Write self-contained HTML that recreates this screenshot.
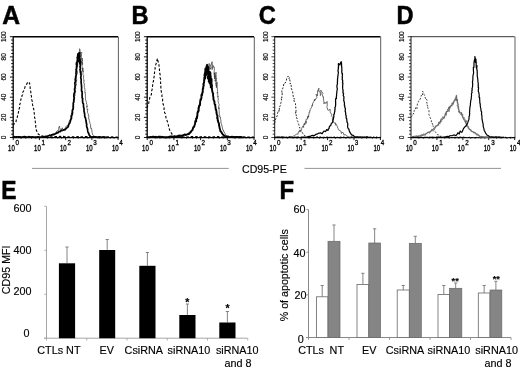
<!DOCTYPE html>
<html lang="en"><head><meta charset="utf-8"><title>Figure</title>
<style>html,body{margin:0;padding:0;background:#fff}svg{display:block}</style></head>
<body>
<svg width="520" height="369" viewBox="0 0 520 369" font-family='"Liberation Sans", Arial, Helvetica, sans-serif'>
<rect x="0" y="0" width="520" height="369" fill="#fff"/>
<line x1="13.20" y1="36.70" x2="118.10" y2="36.70" stroke="#000" stroke-width="1.4"/>
<line x1="118.40" y1="36.70" x2="118.40" y2="137.50" stroke="#333" stroke-width="0.8"/>
<line x1="13.20" y1="36.20" x2="13.20" y2="138.00" stroke="#000" stroke-width="1.3"/>
<line x1="12.70" y1="137.60" x2="118.70" y2="137.60" stroke="#000" stroke-width="1.15"/>
<line x1="9.90" y1="137.50" x2="13.20" y2="137.50" stroke="#000" stroke-width="0.9"/>
<line x1="11.20" y1="134.14" x2="13.20" y2="134.14" stroke="#000" stroke-width="0.9"/>
<line x1="11.20" y1="130.78" x2="13.20" y2="130.78" stroke="#000" stroke-width="0.9"/>
<line x1="11.20" y1="127.42" x2="13.20" y2="127.42" stroke="#000" stroke-width="0.9"/>
<line x1="11.20" y1="124.06" x2="13.20" y2="124.06" stroke="#000" stroke-width="0.9"/>
<line x1="11.20" y1="120.70" x2="13.20" y2="120.70" stroke="#000" stroke-width="0.9"/>
<line x1="9.90" y1="117.34" x2="13.20" y2="117.34" stroke="#000" stroke-width="0.9"/>
<line x1="11.20" y1="113.98" x2="13.20" y2="113.98" stroke="#000" stroke-width="0.9"/>
<line x1="11.20" y1="110.62" x2="13.20" y2="110.62" stroke="#000" stroke-width="0.9"/>
<line x1="11.20" y1="107.26" x2="13.20" y2="107.26" stroke="#000" stroke-width="0.9"/>
<line x1="11.20" y1="103.90" x2="13.20" y2="103.90" stroke="#000" stroke-width="0.9"/>
<line x1="11.20" y1="100.54" x2="13.20" y2="100.54" stroke="#000" stroke-width="0.9"/>
<line x1="9.90" y1="97.18" x2="13.20" y2="97.18" stroke="#000" stroke-width="0.9"/>
<line x1="11.20" y1="93.82" x2="13.20" y2="93.82" stroke="#000" stroke-width="0.9"/>
<line x1="11.20" y1="90.46" x2="13.20" y2="90.46" stroke="#000" stroke-width="0.9"/>
<line x1="11.20" y1="87.10" x2="13.20" y2="87.10" stroke="#000" stroke-width="0.9"/>
<line x1="11.20" y1="83.74" x2="13.20" y2="83.74" stroke="#000" stroke-width="0.9"/>
<line x1="11.20" y1="80.38" x2="13.20" y2="80.38" stroke="#000" stroke-width="0.9"/>
<line x1="9.90" y1="77.02" x2="13.20" y2="77.02" stroke="#000" stroke-width="0.9"/>
<line x1="11.20" y1="73.66" x2="13.20" y2="73.66" stroke="#000" stroke-width="0.9"/>
<line x1="11.20" y1="70.30" x2="13.20" y2="70.30" stroke="#000" stroke-width="0.9"/>
<line x1="11.20" y1="66.94" x2="13.20" y2="66.94" stroke="#000" stroke-width="0.9"/>
<line x1="11.20" y1="63.58" x2="13.20" y2="63.58" stroke="#000" stroke-width="0.9"/>
<line x1="11.20" y1="60.22" x2="13.20" y2="60.22" stroke="#000" stroke-width="0.9"/>
<line x1="9.90" y1="56.86" x2="13.20" y2="56.86" stroke="#000" stroke-width="0.9"/>
<line x1="11.20" y1="53.50" x2="13.20" y2="53.50" stroke="#000" stroke-width="0.9"/>
<line x1="11.20" y1="50.14" x2="13.20" y2="50.14" stroke="#000" stroke-width="0.9"/>
<line x1="11.20" y1="46.78" x2="13.20" y2="46.78" stroke="#000" stroke-width="0.9"/>
<line x1="11.20" y1="43.42" x2="13.20" y2="43.42" stroke="#000" stroke-width="0.9"/>
<line x1="11.20" y1="40.06" x2="13.20" y2="40.06" stroke="#000" stroke-width="0.9"/>
<line x1="9.90" y1="36.70" x2="13.20" y2="36.70" stroke="#000" stroke-width="0.9"/>
<text transform="translate(6.10,137.50) rotate(-90)" font-size="6.4" text-anchor="middle" fill="#111" stroke="#111" stroke-width="0.2">0</text>
<text transform="translate(6.10,117.34) rotate(-90)" font-size="6.4" text-anchor="middle" fill="#111" stroke="#111" stroke-width="0.2">20</text>
<text transform="translate(6.10,97.18) rotate(-90)" font-size="6.4" text-anchor="middle" fill="#111" stroke="#111" stroke-width="0.2">40</text>
<text transform="translate(6.10,77.02) rotate(-90)" font-size="6.4" text-anchor="middle" fill="#111" stroke="#111" stroke-width="0.2">60</text>
<text transform="translate(6.10,56.86) rotate(-90)" font-size="6.4" text-anchor="middle" fill="#111" stroke="#111" stroke-width="0.2">80</text>
<text transform="translate(6.10,36.70) rotate(-90)" font-size="6.4" text-anchor="middle" fill="#111" stroke="#111" stroke-width="0.2">100</text>
<line x1="13.20" y1="137.50" x2="13.20" y2="140.10" stroke="#000" stroke-width="0.9"/>
<line x1="21.09" y1="137.50" x2="21.09" y2="138.90" stroke="#000" stroke-width="0.6"/>
<line x1="25.71" y1="137.50" x2="25.71" y2="138.90" stroke="#000" stroke-width="0.6"/>
<line x1="31.53" y1="137.50" x2="31.53" y2="138.90" stroke="#000" stroke-width="0.6"/>
<line x1="35.36" y1="137.50" x2="35.36" y2="138.90" stroke="#000" stroke-width="0.6"/>
<text transform="translate(14.80,150.6) scale(0.72,1)" font-size="8.4" text-anchor="end" fill="#000" stroke="#000" stroke-width="0.35">10</text>
<text transform="translate(15.50,145.4) scale(0.85,1)" font-size="7.4" fill="#000" stroke="#000" stroke-width="0.3">0</text>
<line x1="39.42" y1="137.50" x2="39.42" y2="140.10" stroke="#000" stroke-width="0.9"/>
<line x1="47.32" y1="137.50" x2="47.32" y2="138.90" stroke="#000" stroke-width="0.6"/>
<line x1="51.94" y1="137.50" x2="51.94" y2="138.90" stroke="#000" stroke-width="0.6"/>
<line x1="57.76" y1="137.50" x2="57.76" y2="138.90" stroke="#000" stroke-width="0.6"/>
<line x1="61.59" y1="137.50" x2="61.59" y2="138.90" stroke="#000" stroke-width="0.6"/>
<text transform="translate(40.75,150.6) scale(0.72,1)" font-size="8.4" text-anchor="end" fill="#000" stroke="#000" stroke-width="0.35">10</text>
<text transform="translate(41.45,145.4) scale(0.85,1)" font-size="7.4" fill="#000" stroke="#000" stroke-width="0.3">1</text>
<line x1="65.65" y1="137.50" x2="65.65" y2="140.10" stroke="#000" stroke-width="0.9"/>
<line x1="73.54" y1="137.50" x2="73.54" y2="138.90" stroke="#000" stroke-width="0.6"/>
<line x1="78.16" y1="137.50" x2="78.16" y2="138.90" stroke="#000" stroke-width="0.6"/>
<line x1="83.98" y1="137.50" x2="83.98" y2="138.90" stroke="#000" stroke-width="0.6"/>
<line x1="87.81" y1="137.50" x2="87.81" y2="138.90" stroke="#000" stroke-width="0.6"/>
<text transform="translate(66.70,150.6) scale(0.72,1)" font-size="8.4" text-anchor="end" fill="#000" stroke="#000" stroke-width="0.35">10</text>
<text transform="translate(67.40,145.4) scale(0.85,1)" font-size="7.4" fill="#000" stroke="#000" stroke-width="0.3">2</text>
<line x1="91.88" y1="137.50" x2="91.88" y2="140.10" stroke="#000" stroke-width="0.9"/>
<line x1="99.77" y1="137.50" x2="99.77" y2="138.90" stroke="#000" stroke-width="0.6"/>
<line x1="104.39" y1="137.50" x2="104.39" y2="138.90" stroke="#000" stroke-width="0.6"/>
<line x1="110.21" y1="137.50" x2="110.21" y2="138.90" stroke="#000" stroke-width="0.6"/>
<line x1="114.04" y1="137.50" x2="114.04" y2="138.90" stroke="#000" stroke-width="0.6"/>
<text transform="translate(92.65,150.6) scale(0.72,1)" font-size="8.4" text-anchor="end" fill="#000" stroke="#000" stroke-width="0.35">10</text>
<text transform="translate(93.35,145.4) scale(0.85,1)" font-size="7.4" fill="#000" stroke="#000" stroke-width="0.3">3</text>
<line x1="118.10" y1="137.50" x2="118.10" y2="140.10" stroke="#000" stroke-width="0.9"/>
<text transform="translate(118.60,150.6) scale(0.72,1)" font-size="8.4" text-anchor="end" fill="#000" stroke="#000" stroke-width="0.35">10</text>
<text transform="translate(119.30,145.4) scale(0.85,1)" font-size="7.4" fill="#000" stroke="#000" stroke-width="0.3">4</text>
<text transform="translate(2.35,23.85) scale(0.950,1)" font-size="26" font-weight="bold" fill="#000" stroke="#000" stroke-width="0.5">A</text>
<polyline points="13.05,125.41 14.52,123.44 15.60,122.43 16.15,121.28 16.35,118.59 17.19,117.53 17.63,115.30 17.89,114.64 18.20,113.29 18.95,110.34 18.81,109.56 19.55,107.83 19.49,106.39 19.69,104.61 20.18,103.49 20.37,101.62 20.71,100.44 21.10,98.33 21.72,97.58 21.97,95.56 22.67,94.75 22.76,92.27 23.58,91.05 24.21,88.89 24.83,87.74 25.24,86.12 26.19,84.98 27.50,82.62 28.37,83.64 29.65,82.88 29.59,84.82 30.10,86.74 30.19,88.16 30.50,90.39 30.70,91.35 30.87,92.34 30.84,94.78 31.49,96.13 31.45,97.14 31.75,99.87 32.13,100.86 32.43,102.03 32.51,104.63 32.85,105.69 33.01,107.57 33.66,108.56 33.89,111.45 34.19,112.89 34.40,114.13 34.53,115.55 34.53,117.72 35.03,118.33 35.18,120.34 35.29,121.75 35.55,123.73 35.76,125.13 35.71,126.49 35.96,128.48 36.36,130.27 37.21,132.01 37.94,133.74 40.04,135.35 41.90,135.82 44.05,136.46 45.43,136.72 46.97,136.47 48.44,136.76 49.94,136.68 51.71,136.73 53.30,136.69 54.91,136.59 56.65,136.43 58.26,136.77 60.00,136.34 61.69,136.74 63.24,136.37 64.93,136.82 66.60,136.88 68.37,136.86 69.95,137.15 71.72,136.86 73.28,136.88 74.98,136.79 76.63,136.77 78.25,136.54 80.09,136.80 81.46,136.82 82.96,136.90 84.55,136.65 85.95,136.46 87.57,136.50 89.06,137.03 90.51,136.64 92.07,137.09 93.54,136.87 94.98,136.82 96.49,137.00 98.07,136.75 99.55,137.01 101.12,136.93 102.67,137.13 104.31,136.69 105.73,136.86 107.41,137.10 108.83,136.81 110.43,137.14 112.02,136.89 113.55,137.08 115.02,137.24 116.51,137.11 118.10,137.00" fill="none" stroke="#000" stroke-width="1.1" stroke-linejoin="round" stroke-linecap="butt" stroke-dasharray="2.6 1.8"/>
<polyline points="13.11,137.04 14.26,137.10 15.46,136.58 16.36,137.32 17.55,136.74 18.91,136.97 19.96,136.98 21.00,136.66 22.11,137.35 23.18,137.23 24.33,136.58 25.47,137.09 26.43,136.55 27.72,136.97 28.78,137.36 29.89,137.41 30.89,137.29 32.01,137.42 33.27,136.61 34.12,136.73 35.51,136.94 36.50,136.81 37.57,136.89 38.63,137.08 39.81,137.39 40.95,137.41 42.12,137.47 43.26,136.43 44.53,136.99 45.75,136.35 46.88,135.73 48.13,135.88 49.16,134.86 50.65,135.48 51.57,134.82 52.96,133.56 54.40,133.86 56.18,132.37 56.73,131.33 57.45,130.73 58.23,130.81 58.50,129.89 58.87,127.20 59.57,126.06 59.63,127.99 60.23,128.73 60.24,131.10 61.13,130.06 62.26,127.77 62.73,129.04 63.59,130.16 64.20,129.22 65.13,128.01 65.45,127.44 66.56,125.84 68.36,125.55 68.46,123.31 68.76,123.52 68.83,122.54 69.79,120.02 70.20,120.00 70.66,118.62 70.94,118.52 70.57,115.66 71.41,116.90 71.27,114.49 71.83,113.03 71.88,111.91 72.13,111.55 72.32,109.88 73.00,107.87 73.06,108.61 72.98,106.15 73.59,105.07 73.18,104.46 73.81,102.46 73.62,101.94 74.24,101.09 74.42,99.27 74.10,99.39 74.76,97.75 74.31,95.76 74.75,94.82 75.15,95.38 74.74,92.80 75.47,92.62 75.62,90.72 75.16,89.46 75.86,88.26 75.55,87.50 75.71,86.34 76.26,84.53 75.53,85.44 76.42,84.41 76.11,83.17 76.65,80.13 76.58,80.59 76.60,78.62 76.36,77.02 76.39,75.16 76.82,74.59 77.12,72.82 77.30,73.36 77.41,72.75 77.48,70.77 76.77,70.07 77.01,67.77 77.55,67.21 77.42,67.14 77.72,64.48 77.52,64.72 77.85,63.40 77.85,60.77 78.14,61.27 77.93,60.09 78.74,59.02 78.77,55.83 78.72,56.94 78.42,54.07 78.86,53.40 79.23,51.93 79.90,49.55 79.59,48.73 79.73,49.76 80.57,52.99 79.84,53.26 80.12,53.96 80.22,56.01 80.51,56.45 80.22,57.55 80.26,56.89 80.90,55.19 80.42,53.41 80.78,53.27 81.66,52.19 81.71,53.97 81.42,54.47 81.52,56.48 81.49,57.60 81.56,57.59 81.67,59.91 81.29,60.35 81.65,62.69 82.16,62.52 82.16,64.76 81.66,62.71 81.62,62.41 82.19,61.41 82.39,59.64 82.41,58.17 81.87,59.39 81.82,59.41 82.55,60.32 81.96,61.62 82.71,63.00 81.97,65.89 82.09,67.06 82.62,68.21 82.91,68.71 82.81,68.46 82.81,70.86 82.80,70.98 82.96,71.80 82.47,68.88 83.06,68.85 82.81,68.28 82.86,70.52 83.36,71.06 83.06,72.18 83.09,73.34 82.89,74.67 83.74,75.55 83.58,76.01 83.57,78.67 83.72,79.19 83.70,80.66 84.23,80.52 83.66,83.22 84.56,83.76 84.29,85.43 84.21,85.40 84.35,87.39 84.58,87.64 85.05,90.68 84.81,91.20 85.05,92.75 85.33,92.39 85.12,92.93 85.48,95.03 85.33,96.14 85.59,98.38 85.55,100.11 85.98,100.26 86.14,101.98 86.63,102.37 86.48,103.91 86.99,104.19 87.05,106.75 86.97,105.96 86.93,108.34 87.49,110.08 87.82,109.33 87.42,110.48 87.62,112.75 88.43,114.37 88.08,115.39 88.33,115.36 88.91,115.59 88.53,118.65 88.91,118.52 89.37,120.46 89.10,120.68 89.73,122.19 89.79,123.54 90.64,124.20 90.56,124.74 90.61,127.00 90.75,128.52 91.51,128.16 91.76,129.79 91.97,131.53 92.05,132.51 92.55,133.78 92.70,134.81 93.68,135.74 94.21,136.21 95.40,136.55 96.68,136.98 97.82,136.59 99.05,137.13 100.05,137.43 101.37,136.76 102.61,136.83 103.57,137.44 104.82,137.34 105.99,137.30 107.10,137.40" fill="none" stroke="#333" stroke-width="0.7" stroke-linejoin="round" stroke-linecap="round"/>
<polyline points="13.31,137.30 14.21,136.72 15.51,137.16 16.59,136.87 17.69,137.07 18.80,136.77 19.88,136.93 21.07,137.33 22.24,137.03 23.24,136.85 24.26,136.69 25.48,136.88 26.57,137.26 27.72,137.04 28.77,136.68 29.91,136.76 31.07,137.33 32.22,136.79 33.39,137.20 34.47,137.27 35.59,137.19 36.62,137.32 37.87,136.77 38.94,137.14 39.99,137.02 41.25,137.15 42.50,136.96 43.71,136.87 45.10,136.44 46.27,136.63 47.56,136.19 48.55,135.77 49.80,135.34 50.99,135.12 52.12,134.85 53.64,134.67 55.00,134.02 56.05,133.55 56.94,132.65 58.00,132.83 59.04,131.50 60.12,131.71 61.16,130.66 63.10,130.10 64.06,129.79 64.88,129.95 66.07,128.53 67.67,127.16 67.86,127.04 68.46,125.82 68.74,124.28 69.31,123.78 69.78,123.12 70.27,121.58 70.80,119.56 71.53,118.13 71.37,117.84 71.73,115.43 72.34,114.37 71.97,113.47 72.57,112.94 72.37,111.07 72.44,110.13 73.02,109.52 73.23,108.41 73.32,107.19 73.19,105.19 73.43,104.21 73.19,103.32 73.80,101.60 73.74,100.94 73.81,99.36 74.19,98.40 74.07,97.52 73.80,96.60 73.97,94.54 74.01,93.56 74.15,93.24 74.51,92.70 74.87,91.56 74.53,89.40 74.64,88.50 74.98,87.71 75.13,85.56 75.04,84.90 74.87,82.88 75.22,81.87 75.51,80.96 75.21,79.71 75.39,78.63 75.66,77.94 75.62,77.11 75.65,76.45 76.22,74.98 75.98,73.45 76.17,71.48 76.16,71.19 76.10,69.27 76.56,68.62 76.45,68.47 76.58,66.19 76.89,65.20 76.35,64.62 76.48,62.79 77.01,62.31 76.59,63.25 76.94,64.64 76.92,66.16 76.88,64.50 77.11,64.56 76.97,63.13 77.08,61.68 77.25,60.38 77.53,59.14 77.17,57.54 77.19,57.74 77.59,56.83 77.92,53.89 78.20,54.00 78.30,54.71 78.12,55.85 78.46,56.73 78.35,58.32 78.67,60.12 78.72,61.39 78.37,61.52 78.56,60.40 78.59,59.99 78.96,58.65 78.97,56.61 78.74,57.06 78.68,54.85 78.88,53.01 79.65,53.38 79.52,52.98 79.33,54.32 79.60,56.28 79.48,57.14 79.31,58.32 79.86,59.86 79.36,60.58 79.78,61.26 79.92,62.78 79.83,63.83 80.07,63.31 79.87,60.96 79.84,59.55 80.00,59.89 79.80,58.02 80.01,59.00 80.18,61.12 80.20,61.45 80.39,62.36 80.28,64.12 80.31,65.63 80.00,66.38 80.14,67.63 80.53,68.74 79.94,69.60 80.41,71.52 80.39,72.57 80.30,70.80 80.81,71.33 80.98,72.98 80.54,74.00 81.03,74.03 81.08,75.87 80.79,77.40 80.82,78.20 81.07,78.70 81.22,80.23 81.06,82.27 81.04,81.68 81.36,84.32 81.54,85.32 81.49,86.31 81.48,86.75 81.67,87.48 81.49,89.96 81.63,91.12 82.10,91.66 82.11,93.52 82.31,93.51 81.95,95.12 82.23,96.13 82.02,97.77 82.71,98.59 82.52,99.79 82.62,101.76 82.69,102.45 82.95,103.34 83.38,103.60 83.48,105.10 83.52,107.08 83.68,107.44 83.95,107.99 83.97,109.62 84.06,111.54 84.39,112.23 84.31,112.66 84.63,113.80 84.75,116.25 84.87,117.14 85.27,117.47 85.46,118.10 85.77,119.40 85.95,120.74 86.42,122.95 86.33,123.56 86.79,124.17 86.54,125.16 86.78,126.92 87.06,127.59 87.44,128.56 87.63,130.16 87.84,131.48 88.19,132.63 88.76,133.38 89.06,134.88 89.87,135.74 90.69,136.90 91.76,137.03 92.75,136.88 93.94,136.81 94.98,136.78 96.21,136.94 97.19,137.33 98.23,137.41 99.31,136.84 100.47,137.09 101.70,137.47 102.76,137.21 103.81,137.12 104.97,137.26 105.95,137.45 107.10,137.40" fill="none" stroke="#000" stroke-width="1.7" stroke-linejoin="round" stroke-linecap="round"/>
<line x1="147.20" y1="36.70" x2="254.00" y2="36.70" stroke="#000" stroke-width="1.4"/>
<line x1="254.30" y1="36.70" x2="254.30" y2="137.50" stroke="#333" stroke-width="0.8"/>
<line x1="147.20" y1="36.20" x2="147.20" y2="138.00" stroke="#000" stroke-width="1.3"/>
<line x1="146.70" y1="137.60" x2="254.60" y2="137.60" stroke="#000" stroke-width="1.15"/>
<line x1="143.90" y1="137.50" x2="147.20" y2="137.50" stroke="#000" stroke-width="0.9"/>
<line x1="145.20" y1="134.14" x2="147.20" y2="134.14" stroke="#000" stroke-width="0.9"/>
<line x1="145.20" y1="130.78" x2="147.20" y2="130.78" stroke="#000" stroke-width="0.9"/>
<line x1="145.20" y1="127.42" x2="147.20" y2="127.42" stroke="#000" stroke-width="0.9"/>
<line x1="145.20" y1="124.06" x2="147.20" y2="124.06" stroke="#000" stroke-width="0.9"/>
<line x1="145.20" y1="120.70" x2="147.20" y2="120.70" stroke="#000" stroke-width="0.9"/>
<line x1="143.90" y1="117.34" x2="147.20" y2="117.34" stroke="#000" stroke-width="0.9"/>
<line x1="145.20" y1="113.98" x2="147.20" y2="113.98" stroke="#000" stroke-width="0.9"/>
<line x1="145.20" y1="110.62" x2="147.20" y2="110.62" stroke="#000" stroke-width="0.9"/>
<line x1="145.20" y1="107.26" x2="147.20" y2="107.26" stroke="#000" stroke-width="0.9"/>
<line x1="145.20" y1="103.90" x2="147.20" y2="103.90" stroke="#000" stroke-width="0.9"/>
<line x1="145.20" y1="100.54" x2="147.20" y2="100.54" stroke="#000" stroke-width="0.9"/>
<line x1="143.90" y1="97.18" x2="147.20" y2="97.18" stroke="#000" stroke-width="0.9"/>
<line x1="145.20" y1="93.82" x2="147.20" y2="93.82" stroke="#000" stroke-width="0.9"/>
<line x1="145.20" y1="90.46" x2="147.20" y2="90.46" stroke="#000" stroke-width="0.9"/>
<line x1="145.20" y1="87.10" x2="147.20" y2="87.10" stroke="#000" stroke-width="0.9"/>
<line x1="145.20" y1="83.74" x2="147.20" y2="83.74" stroke="#000" stroke-width="0.9"/>
<line x1="145.20" y1="80.38" x2="147.20" y2="80.38" stroke="#000" stroke-width="0.9"/>
<line x1="143.90" y1="77.02" x2="147.20" y2="77.02" stroke="#000" stroke-width="0.9"/>
<line x1="145.20" y1="73.66" x2="147.20" y2="73.66" stroke="#000" stroke-width="0.9"/>
<line x1="145.20" y1="70.30" x2="147.20" y2="70.30" stroke="#000" stroke-width="0.9"/>
<line x1="145.20" y1="66.94" x2="147.20" y2="66.94" stroke="#000" stroke-width="0.9"/>
<line x1="145.20" y1="63.58" x2="147.20" y2="63.58" stroke="#000" stroke-width="0.9"/>
<line x1="145.20" y1="60.22" x2="147.20" y2="60.22" stroke="#000" stroke-width="0.9"/>
<line x1="143.90" y1="56.86" x2="147.20" y2="56.86" stroke="#000" stroke-width="0.9"/>
<line x1="145.20" y1="53.50" x2="147.20" y2="53.50" stroke="#000" stroke-width="0.9"/>
<line x1="145.20" y1="50.14" x2="147.20" y2="50.14" stroke="#000" stroke-width="0.9"/>
<line x1="145.20" y1="46.78" x2="147.20" y2="46.78" stroke="#000" stroke-width="0.9"/>
<line x1="145.20" y1="43.42" x2="147.20" y2="43.42" stroke="#000" stroke-width="0.9"/>
<line x1="145.20" y1="40.06" x2="147.20" y2="40.06" stroke="#000" stroke-width="0.9"/>
<line x1="143.90" y1="36.70" x2="147.20" y2="36.70" stroke="#000" stroke-width="0.9"/>
<text transform="translate(140.10,137.50) rotate(-90)" font-size="6.4" text-anchor="middle" fill="#111" stroke="#111" stroke-width="0.2">0</text>
<text transform="translate(140.10,117.34) rotate(-90)" font-size="6.4" text-anchor="middle" fill="#111" stroke="#111" stroke-width="0.2">20</text>
<text transform="translate(140.10,97.18) rotate(-90)" font-size="6.4" text-anchor="middle" fill="#111" stroke="#111" stroke-width="0.2">40</text>
<text transform="translate(140.10,77.02) rotate(-90)" font-size="6.4" text-anchor="middle" fill="#111" stroke="#111" stroke-width="0.2">60</text>
<text transform="translate(140.10,56.86) rotate(-90)" font-size="6.4" text-anchor="middle" fill="#111" stroke="#111" stroke-width="0.2">80</text>
<text transform="translate(140.10,36.70) rotate(-90)" font-size="6.4" text-anchor="middle" fill="#111" stroke="#111" stroke-width="0.2">100</text>
<line x1="147.20" y1="137.50" x2="147.20" y2="140.10" stroke="#000" stroke-width="0.9"/>
<line x1="155.24" y1="137.50" x2="155.24" y2="138.90" stroke="#000" stroke-width="0.6"/>
<line x1="159.94" y1="137.50" x2="159.94" y2="138.90" stroke="#000" stroke-width="0.6"/>
<line x1="165.86" y1="137.50" x2="165.86" y2="138.90" stroke="#000" stroke-width="0.6"/>
<line x1="169.76" y1="137.50" x2="169.76" y2="138.90" stroke="#000" stroke-width="0.6"/>
<text transform="translate(148.80,150.6) scale(0.72,1)" font-size="8.4" text-anchor="end" fill="#000" stroke="#000" stroke-width="0.35">10</text>
<text transform="translate(149.50,145.4) scale(0.85,1)" font-size="7.4" fill="#000" stroke="#000" stroke-width="0.3">0</text>
<line x1="173.90" y1="137.50" x2="173.90" y2="140.10" stroke="#000" stroke-width="0.9"/>
<line x1="181.94" y1="137.50" x2="181.94" y2="138.90" stroke="#000" stroke-width="0.6"/>
<line x1="186.64" y1="137.50" x2="186.64" y2="138.90" stroke="#000" stroke-width="0.6"/>
<line x1="192.56" y1="137.50" x2="192.56" y2="138.90" stroke="#000" stroke-width="0.6"/>
<line x1="196.46" y1="137.50" x2="196.46" y2="138.90" stroke="#000" stroke-width="0.6"/>
<text transform="translate(174.75,150.6) scale(0.72,1)" font-size="8.4" text-anchor="end" fill="#000" stroke="#000" stroke-width="0.35">10</text>
<text transform="translate(175.45,145.4) scale(0.85,1)" font-size="7.4" fill="#000" stroke="#000" stroke-width="0.3">1</text>
<line x1="200.60" y1="137.50" x2="200.60" y2="140.10" stroke="#000" stroke-width="0.9"/>
<line x1="208.64" y1="137.50" x2="208.64" y2="138.90" stroke="#000" stroke-width="0.6"/>
<line x1="213.34" y1="137.50" x2="213.34" y2="138.90" stroke="#000" stroke-width="0.6"/>
<line x1="219.26" y1="137.50" x2="219.26" y2="138.90" stroke="#000" stroke-width="0.6"/>
<line x1="223.16" y1="137.50" x2="223.16" y2="138.90" stroke="#000" stroke-width="0.6"/>
<text transform="translate(200.70,150.6) scale(0.72,1)" font-size="8.4" text-anchor="end" fill="#000" stroke="#000" stroke-width="0.35">10</text>
<text transform="translate(201.40,145.4) scale(0.85,1)" font-size="7.4" fill="#000" stroke="#000" stroke-width="0.3">2</text>
<line x1="227.30" y1="137.50" x2="227.30" y2="140.10" stroke="#000" stroke-width="0.9"/>
<line x1="235.34" y1="137.50" x2="235.34" y2="138.90" stroke="#000" stroke-width="0.6"/>
<line x1="240.04" y1="137.50" x2="240.04" y2="138.90" stroke="#000" stroke-width="0.6"/>
<line x1="245.96" y1="137.50" x2="245.96" y2="138.90" stroke="#000" stroke-width="0.6"/>
<line x1="249.86" y1="137.50" x2="249.86" y2="138.90" stroke="#000" stroke-width="0.6"/>
<text transform="translate(226.65,150.6) scale(0.72,1)" font-size="8.4" text-anchor="end" fill="#000" stroke="#000" stroke-width="0.35">10</text>
<text transform="translate(227.35,145.4) scale(0.85,1)" font-size="7.4" fill="#000" stroke="#000" stroke-width="0.3">3</text>
<line x1="254.00" y1="137.50" x2="254.00" y2="140.10" stroke="#000" stroke-width="0.9"/>
<text transform="translate(252.60,150.6) scale(0.72,1)" font-size="8.4" text-anchor="end" fill="#000" stroke="#000" stroke-width="0.35">10</text>
<text transform="translate(253.30,145.4) scale(0.85,1)" font-size="7.4" fill="#000" stroke="#000" stroke-width="0.3">4</text>
<text transform="translate(131.47,23.85) scale(0.910,1)" font-size="26" font-weight="bold" fill="#000" stroke="#000" stroke-width="0.5">B</text>
<polyline points="147.07,107.94 147.58,106.18 147.85,104.70 148.70,103.42 149.13,100.94 149.52,99.35 149.84,97.45 150.49,96.47 151.41,94.18 151.65,91.77 151.66,90.83 152.11,89.60 152.44,86.97 152.55,86.24 152.75,83.88 152.99,82.09 153.46,81.51 153.52,79.05 153.95,77.77 154.19,76.49 154.25,74.21 154.55,72.57 154.58,70.73 155.15,68.69 155.03,67.84 155.39,66.05 155.92,64.11 156.61,62.24 156.76,60.58 157.57,58.44 157.83,60.72 158.21,62.08 158.95,63.44 158.99,65.62 159.50,67.83 159.40,69.10 159.54,70.94 159.64,72.94 160.23,74.97 160.32,76.64 160.07,77.30 160.64,79.59 160.47,81.42 160.68,82.85 160.62,83.57 160.80,85.09 160.88,87.85 160.96,88.11 160.92,89.94 161.39,91.81 161.41,92.94 162.00,94.89 161.88,95.88 162.07,97.54 162.63,99.01 162.58,100.99 162.94,103.32 163.15,104.29 163.73,105.75 164.11,107.47 164.01,109.00 164.17,110.64 164.65,112.76 165.31,113.68 165.28,114.80 165.76,116.20 166.13,118.59 166.45,118.91 167.21,121.09 167.73,122.50 168.17,124.44 168.62,126.15 169.00,127.07 169.40,129.48 170.12,131.12 170.79,132.29 171.74,133.68 172.57,135.02 174.28,135.91 175.96,136.83 177.59,136.42 179.09,136.95 180.53,136.51 182.07,136.60 183.59,136.94 184.92,136.73 186.52,136.92 188.05,137.08 189.45,136.58 191.08,136.56 192.57,136.60 194.06,136.93 195.57,136.79 197.07,136.58 198.53,136.63 200.07,136.85 201.49,136.73 202.91,136.49 204.52,136.75 206.07,136.84 207.43,136.73 209.05,136.83 210.41,137.02 212.06,136.64 213.51,136.82 215.05,136.80 216.45,136.86 218.09,136.63 219.43,136.87 221.07,136.79 222.49,136.94 224.05,136.49 225.57,136.53 226.96,136.84 228.49,136.79 229.94,136.80 231.44,136.44 233.00,136.56 234.51,136.89 236.04,136.44 237.46,136.75 239.00,136.86 240.50,136.55 241.95,136.98 243.47,136.97 245.09,136.92 246.53,136.93 247.97,137.12 249.49,137.14 250.96,137.14 252.55,137.03 254.00,137.00" fill="none" stroke="#000" stroke-width="1.1" stroke-linejoin="round" stroke-linecap="butt" stroke-dasharray="2.6 1.8"/>
<polyline points="147.30,137.31 148.31,136.77 149.26,137.16 150.53,137.25 151.61,137.26 152.69,137.29 153.95,136.92 155.00,137.18 156.00,137.05 157.32,136.77 158.43,137.18 159.55,136.84 160.41,137.29 161.77,136.95 162.64,136.71 163.93,136.80 165.15,137.09 166.00,137.10 167.15,137.32 168.44,136.86 169.45,136.99 170.61,137.22 171.44,136.56 172.74,136.45 173.83,136.19 175.03,136.58 175.86,136.67 177.10,135.99 178.33,135.72 179.39,136.29 180.74,135.17 181.94,134.96 182.93,135.76 184.30,134.62 185.45,134.26 186.58,134.59 187.79,133.40 189.12,132.48 190.25,131.37 191.27,131.50 192.10,130.66 192.57,129.50 193.40,127.83 193.78,127.12 194.33,124.71 195.20,123.97 195.30,124.11 195.34,121.19 195.60,121.54 196.12,119.62 196.52,120.30 196.65,117.89 197.53,117.35 197.29,115.93 197.70,113.96 197.83,113.27 198.44,112.21 198.53,112.78 199.00,110.12 198.93,108.87 198.96,108.19 199.54,108.25 199.31,104.72 199.68,103.74 199.52,104.49 199.81,103.23 200.26,102.70 200.93,99.31 200.55,100.50 201.16,98.02 201.53,97.93 201.49,95.92 201.36,94.53 201.62,94.10 202.26,91.74 202.51,90.51 202.25,90.82 202.80,90.37 203.17,88.75 202.94,87.98 203.12,86.31 204.06,85.97 204.22,83.69 204.22,83.48 203.90,82.79 204.78,80.39 204.84,79.32 204.57,78.92 204.56,78.05 205.57,75.63 205.72,74.01 205.83,73.43 206.21,72.65 206.45,70.45 205.97,71.32 206.76,69.43 206.49,67.32 207.08,65.84 208.02,69.02 208.34,70.19 208.16,69.90 208.71,68.83 208.74,68.57 208.90,66.40 208.71,66.39 208.87,65.23 209.18,63.43 209.34,65.38 209.72,65.68 209.73,67.77 210.51,68.59 209.99,69.52 210.21,68.94 210.86,67.68 210.47,65.80 210.79,64.85 211.14,65.06 211.61,62.95 212.10,61.68 212.26,62.21 212.22,65.01 211.85,65.35 212.14,65.13 211.91,68.19 212.06,69.31 212.14,69.66 212.17,69.01 212.96,67.09 212.86,67.80 212.71,65.52 213.20,65.45 213.50,66.42 213.50,66.19 214.34,67.23 214.33,70.25 214.16,71.40 214.19,71.45 214.05,72.43 214.48,75.12 214.46,74.86 214.33,76.16 214.56,78.64 214.88,77.29 214.72,76.22 214.31,74.50 214.37,72.65 214.51,75.29 214.50,76.35 215.40,76.21 215.35,76.33 214.78,77.35 214.78,78.46 215.54,79.80 215.38,81.41 215.02,80.68 215.12,81.02 215.36,78.91 215.58,77.89 215.56,75.85 215.30,76.34 215.41,74.09 216.03,73.31 216.21,72.80 215.85,72.15 215.96,74.22 216.24,75.51 216.12,77.38 215.95,78.60 216.38,77.96 216.43,80.96 216.41,80.72 215.90,81.33 216.04,84.35 216.07,83.29 216.05,84.63 216.38,87.55 216.69,86.93 216.29,85.83 216.87,86.48 216.62,85.58 216.72,83.92 216.79,81.65 217.33,84.00 217.04,85.18 217.17,86.11 216.72,85.49 216.83,87.82 217.47,87.77 217.35,88.77 217.59,91.61 217.12,93.25 217.77,92.22 217.60,93.51 218.07,96.68 217.68,95.98 218.22,98.93 218.44,99.09 217.99,100.70 218.42,102.39 218.65,103.41 219.13,104.33 219.19,104.59 218.48,107.36 218.63,108.83 219.13,107.59 219.09,110.48 219.30,111.41 219.17,113.15 219.53,114.32 219.44,115.07 219.85,115.57 219.56,117.08 220.53,117.10 220.40,117.98 221.12,121.60 221.06,121.45 220.76,121.69 221.52,124.44 221.96,125.68 221.75,125.48 222.22,126.89 222.61,129.11 222.94,130.43 223.48,130.07 223.88,132.24 224.43,132.32 225.17,133.99 225.64,134.61 226.08,135.48 227.29,136.00 228.43,135.95 229.78,136.80 230.98,136.52 232.08,137.09 232.96,137.40 234.15,136.78 235.19,137.50 236.31,137.05 237.52,137.07 238.65,136.85 239.68,137.36 240.84,137.42 241.83,137.49 243.00,137.40" fill="none" stroke="#333" stroke-width="0.7" stroke-linejoin="round" stroke-linecap="round"/>
<polyline points="147.23,137.18 148.39,137.33 149.49,137.31 150.42,136.97 151.76,137.11 152.87,136.71 153.87,136.81 155.00,137.05 155.97,136.79 157.16,137.31 158.39,136.75 159.51,136.73 160.58,136.72 161.53,137.27 162.70,136.79 164.01,137.28 164.95,137.34 166.12,137.09 167.15,137.24 168.38,137.22 169.55,136.67 170.52,136.52 171.57,136.40 172.72,136.77 173.76,136.78 174.96,136.45 176.29,136.41 177.35,136.24 178.66,135.73 179.94,135.53 181.07,136.04 182.10,135.71 183.46,135.24 184.59,134.48 185.90,135.02 187.23,134.32 188.82,133.98 189.94,132.85 190.76,132.19 191.33,131.06 192.39,130.10 192.77,129.13 193.28,127.13 194.06,126.92 194.41,125.84 195.03,123.67 195.21,122.23 195.38,120.98 196.13,121.49 196.10,118.43 197.01,118.23 196.93,116.47 197.28,116.53 197.41,114.59 197.35,114.46 197.55,112.49 198.33,110.64 198.47,111.15 198.62,109.70 198.47,107.87 198.77,107.55 199.13,105.62 199.89,105.28 200.14,103.34 200.06,102.74 200.32,100.72 200.53,99.29 200.79,99.83 201.46,97.97 201.41,96.25 201.40,94.97 202.15,95.02 202.13,93.71 202.69,92.39 202.78,91.41 202.74,90.19 202.85,88.64 203.36,87.94 203.19,87.34 203.60,85.49 203.32,84.32 203.66,83.45 203.97,82.63 204.19,81.45 204.06,80.00 204.42,79.23 204.24,78.11 204.69,76.66 204.85,76.06 204.61,74.06 204.47,75.92 205.11,76.45 205.03,78.19 205.16,78.34 205.25,78.05 205.23,76.62 205.25,76.22 205.32,75.00 204.95,72.76 205.29,72.63 205.19,71.59 205.54,69.19 205.48,68.45 205.29,69.47 205.57,70.76 205.59,71.67 205.88,73.56 206.08,75.18 205.87,74.68 205.75,72.56 205.99,71.45 205.93,71.16 206.16,68.45 206.38,67.44 206.38,66.80 206.46,66.92 207.12,64.84 207.17,66.41 206.91,66.53 207.12,68.50 207.42,70.44 207.23,70.33 207.48,70.75 206.98,73.01 207.38,73.28 207.47,73.62 207.38,71.53 207.36,70.08 207.96,69.09 208.04,68.99 207.87,66.52 208.18,68.19 207.82,69.04 208.26,70.58 207.81,71.75 207.74,73.24 208.00,73.79 208.28,76.05 207.78,76.67 208.00,78.67 208.40,78.49 208.08,77.21 208.62,76.39 208.40,75.65 208.46,74.81 208.57,72.74 208.62,72.00 208.50,70.97 208.38,70.26 208.54,68.82 208.77,68.18 208.32,68.67 208.65,71.17 209.00,71.59 208.43,73.22 208.76,73.98 209.00,75.26 208.88,76.99 208.85,77.12 209.22,77.89 208.87,80.33 208.75,81.51 209.24,81.87 208.99,81.39 209.48,78.95 209.22,78.60 209.28,76.99 209.08,76.34 209.58,74.14 209.22,74.47 209.66,72.99 209.17,71.95 209.87,73.63 209.71,72.87 209.85,74.35 209.75,76.95 209.83,76.45 209.57,79.15 209.51,79.68 209.73,79.91 209.91,80.81 209.59,82.62 209.60,83.12 210.00,83.28 210.26,80.87 210.00,80.03 210.17,79.18 210.46,77.75 209.89,77.19 210.01,75.86 210.30,75.22 210.39,73.44 210.23,72.10 210.26,73.64 210.48,73.55 210.32,75.17 210.71,75.93 210.73,78.02 210.32,79.19 210.36,79.25 210.75,80.62 210.99,82.25 210.63,84.02 210.46,85.02 210.52,85.02 211.18,87.22 210.71,87.23 211.28,87.21 211.22,85.03 211.14,84.33 210.91,83.17 211.23,82.07 211.12,80.52 211.48,80.42 211.51,78.87 211.62,80.13 211.50,81.35 211.68,82.09 211.30,82.47 211.44,83.58 211.99,85.56 211.97,85.70 211.84,88.58 212.01,88.76 211.98,89.20 212.26,91.32 212.64,92.90 213.22,93.55 213.00,94.93 213.16,96.07 213.44,97.59 213.52,99.60 213.98,100.75 214.43,101.35 214.50,102.97 214.47,103.50 214.80,104.60 215.33,104.66 215.17,105.47 215.41,106.66 215.75,109.53 215.94,109.29 216.23,110.32 216.61,112.32 216.40,112.51 216.95,115.05 217.13,115.17 217.56,115.46 217.11,118.14 217.55,117.81 217.84,120.84 218.01,120.70 218.01,121.39 218.83,123.41 219.12,123.87 219.00,125.12 219.37,126.40 219.59,128.15 219.91,128.90 220.42,131.21 221.12,131.76 221.84,132.91 222.36,133.82 223.21,134.84 224.29,135.68 225.10,136.17 226.03,136.53 227.33,136.66 228.47,136.80 229.73,137.11 230.78,136.86 232.08,136.80 233.00,136.90 234.09,137.28 235.38,136.98 236.31,136.86 237.44,136.90 238.58,137.30 239.64,136.97 240.85,137.00 241.83,137.21 243.00,137.40" fill="none" stroke="#000" stroke-width="1.9" stroke-linejoin="round" stroke-linecap="round"/>
<line x1="274.70" y1="36.70" x2="380.40" y2="36.70" stroke="#000" stroke-width="1.4"/>
<line x1="380.70" y1="36.70" x2="380.70" y2="137.50" stroke="#333" stroke-width="0.8"/>
<line x1="274.70" y1="36.20" x2="274.70" y2="138.00" stroke="#000" stroke-width="0.9"/>
<line x1="274.20" y1="137.60" x2="381.00" y2="137.60" stroke="#000" stroke-width="1.15"/>
<line x1="271.40" y1="137.50" x2="274.70" y2="137.50" stroke="#000" stroke-width="0.75"/>
<line x1="272.70" y1="134.14" x2="274.70" y2="134.14" stroke="#000" stroke-width="0.75"/>
<line x1="272.70" y1="130.78" x2="274.70" y2="130.78" stroke="#000" stroke-width="0.75"/>
<line x1="272.70" y1="127.42" x2="274.70" y2="127.42" stroke="#000" stroke-width="0.75"/>
<line x1="272.70" y1="124.06" x2="274.70" y2="124.06" stroke="#000" stroke-width="0.75"/>
<line x1="272.70" y1="120.70" x2="274.70" y2="120.70" stroke="#000" stroke-width="0.75"/>
<line x1="271.40" y1="117.34" x2="274.70" y2="117.34" stroke="#000" stroke-width="0.75"/>
<line x1="272.70" y1="113.98" x2="274.70" y2="113.98" stroke="#000" stroke-width="0.75"/>
<line x1="272.70" y1="110.62" x2="274.70" y2="110.62" stroke="#000" stroke-width="0.75"/>
<line x1="272.70" y1="107.26" x2="274.70" y2="107.26" stroke="#000" stroke-width="0.75"/>
<line x1="272.70" y1="103.90" x2="274.70" y2="103.90" stroke="#000" stroke-width="0.75"/>
<line x1="272.70" y1="100.54" x2="274.70" y2="100.54" stroke="#000" stroke-width="0.75"/>
<line x1="271.40" y1="97.18" x2="274.70" y2="97.18" stroke="#000" stroke-width="0.75"/>
<line x1="272.70" y1="93.82" x2="274.70" y2="93.82" stroke="#000" stroke-width="0.75"/>
<line x1="272.70" y1="90.46" x2="274.70" y2="90.46" stroke="#000" stroke-width="0.75"/>
<line x1="272.70" y1="87.10" x2="274.70" y2="87.10" stroke="#000" stroke-width="0.75"/>
<line x1="272.70" y1="83.74" x2="274.70" y2="83.74" stroke="#000" stroke-width="0.75"/>
<line x1="272.70" y1="80.38" x2="274.70" y2="80.38" stroke="#000" stroke-width="0.75"/>
<line x1="271.40" y1="77.02" x2="274.70" y2="77.02" stroke="#000" stroke-width="0.75"/>
<line x1="272.70" y1="73.66" x2="274.70" y2="73.66" stroke="#000" stroke-width="0.75"/>
<line x1="272.70" y1="70.30" x2="274.70" y2="70.30" stroke="#000" stroke-width="0.75"/>
<line x1="272.70" y1="66.94" x2="274.70" y2="66.94" stroke="#000" stroke-width="0.75"/>
<line x1="272.70" y1="63.58" x2="274.70" y2="63.58" stroke="#000" stroke-width="0.75"/>
<line x1="272.70" y1="60.22" x2="274.70" y2="60.22" stroke="#000" stroke-width="0.75"/>
<line x1="271.40" y1="56.86" x2="274.70" y2="56.86" stroke="#000" stroke-width="0.75"/>
<line x1="272.70" y1="53.50" x2="274.70" y2="53.50" stroke="#000" stroke-width="0.75"/>
<line x1="272.70" y1="50.14" x2="274.70" y2="50.14" stroke="#000" stroke-width="0.75"/>
<line x1="272.70" y1="46.78" x2="274.70" y2="46.78" stroke="#000" stroke-width="0.75"/>
<line x1="272.70" y1="43.42" x2="274.70" y2="43.42" stroke="#000" stroke-width="0.75"/>
<line x1="272.70" y1="40.06" x2="274.70" y2="40.06" stroke="#000" stroke-width="0.75"/>
<line x1="271.40" y1="36.70" x2="274.70" y2="36.70" stroke="#000" stroke-width="0.75"/>
<text transform="translate(267.60,137.50) rotate(-90)" font-size="6.4" text-anchor="middle" fill="#111" stroke="#111" stroke-width="0.2">0</text>
<text transform="translate(267.60,117.34) rotate(-90)" font-size="6.4" text-anchor="middle" fill="#111" stroke="#111" stroke-width="0.2">20</text>
<text transform="translate(267.60,97.18) rotate(-90)" font-size="6.4" text-anchor="middle" fill="#111" stroke="#111" stroke-width="0.2">40</text>
<text transform="translate(267.60,77.02) rotate(-90)" font-size="6.4" text-anchor="middle" fill="#111" stroke="#111" stroke-width="0.2">60</text>
<text transform="translate(267.60,56.86) rotate(-90)" font-size="6.4" text-anchor="middle" fill="#111" stroke="#111" stroke-width="0.2">80</text>
<text transform="translate(267.60,36.70) rotate(-90)" font-size="6.4" text-anchor="middle" fill="#111" stroke="#111" stroke-width="0.2">100</text>
<line x1="274.70" y1="137.50" x2="274.70" y2="140.10" stroke="#000" stroke-width="0.9"/>
<line x1="282.65" y1="137.50" x2="282.65" y2="138.90" stroke="#000" stroke-width="0.6"/>
<line x1="287.31" y1="137.50" x2="287.31" y2="138.90" stroke="#000" stroke-width="0.6"/>
<line x1="293.17" y1="137.50" x2="293.17" y2="138.90" stroke="#000" stroke-width="0.6"/>
<line x1="297.03" y1="137.50" x2="297.03" y2="138.90" stroke="#000" stroke-width="0.6"/>
<text transform="translate(276.30,150.6) scale(0.72,1)" font-size="8.4" text-anchor="end" fill="#000" stroke="#000" stroke-width="0.35">10</text>
<text transform="translate(277.00,145.4) scale(0.85,1)" font-size="7.4" fill="#000" stroke="#000" stroke-width="0.3">0</text>
<line x1="301.12" y1="137.50" x2="301.12" y2="140.10" stroke="#000" stroke-width="0.9"/>
<line x1="309.08" y1="137.50" x2="309.08" y2="138.90" stroke="#000" stroke-width="0.6"/>
<line x1="313.73" y1="137.50" x2="313.73" y2="138.90" stroke="#000" stroke-width="0.6"/>
<line x1="319.60" y1="137.50" x2="319.60" y2="138.90" stroke="#000" stroke-width="0.6"/>
<line x1="323.46" y1="137.50" x2="323.46" y2="138.90" stroke="#000" stroke-width="0.6"/>
<text transform="translate(302.25,150.6) scale(0.72,1)" font-size="8.4" text-anchor="end" fill="#000" stroke="#000" stroke-width="0.35">10</text>
<text transform="translate(302.95,145.4) scale(0.85,1)" font-size="7.4" fill="#000" stroke="#000" stroke-width="0.3">1</text>
<line x1="327.55" y1="137.50" x2="327.55" y2="140.10" stroke="#000" stroke-width="0.9"/>
<line x1="335.50" y1="137.50" x2="335.50" y2="138.90" stroke="#000" stroke-width="0.6"/>
<line x1="340.16" y1="137.50" x2="340.16" y2="138.90" stroke="#000" stroke-width="0.6"/>
<line x1="346.02" y1="137.50" x2="346.02" y2="138.90" stroke="#000" stroke-width="0.6"/>
<line x1="349.88" y1="137.50" x2="349.88" y2="138.90" stroke="#000" stroke-width="0.6"/>
<text transform="translate(328.20,150.6) scale(0.72,1)" font-size="8.4" text-anchor="end" fill="#000" stroke="#000" stroke-width="0.35">10</text>
<text transform="translate(328.90,145.4) scale(0.85,1)" font-size="7.4" fill="#000" stroke="#000" stroke-width="0.3">2</text>
<line x1="353.97" y1="137.50" x2="353.97" y2="140.10" stroke="#000" stroke-width="0.9"/>
<line x1="361.93" y1="137.50" x2="361.93" y2="138.90" stroke="#000" stroke-width="0.6"/>
<line x1="366.58" y1="137.50" x2="366.58" y2="138.90" stroke="#000" stroke-width="0.6"/>
<line x1="372.45" y1="137.50" x2="372.45" y2="138.90" stroke="#000" stroke-width="0.6"/>
<line x1="376.31" y1="137.50" x2="376.31" y2="138.90" stroke="#000" stroke-width="0.6"/>
<text transform="translate(354.15,150.6) scale(0.72,1)" font-size="8.4" text-anchor="end" fill="#000" stroke="#000" stroke-width="0.35">10</text>
<text transform="translate(354.85,145.4) scale(0.85,1)" font-size="7.4" fill="#000" stroke="#000" stroke-width="0.3">3</text>
<line x1="380.40" y1="137.50" x2="380.40" y2="140.10" stroke="#000" stroke-width="0.9"/>
<text transform="translate(380.10,150.6) scale(0.72,1)" font-size="8.4" text-anchor="end" fill="#000" stroke="#000" stroke-width="0.35">10</text>
<text transform="translate(380.80,145.4) scale(0.85,1)" font-size="7.4" fill="#000" stroke="#000" stroke-width="0.3">4</text>
<text transform="translate(258.71,23.85) scale(0.910,1)" font-size="26" font-weight="bold" fill="#000" stroke="#000" stroke-width="0.5">C</text>
<polyline points="274.42,123.35 275.11,121.61 275.44,118.99 276.77,117.63 276.77,117.13 276.95,115.98 277.21,115.74 277.64,112.70 278.10,111.55 278.88,112.01 279.23,108.19 279.49,109.37 279.66,106.81 280.37,105.48 280.58,104.07 281.00,102.45 281.67,100.74 281.12,97.69 282.22,97.47 281.52,97.41 282.02,95.33 282.43,92.57 281.97,92.92 281.83,91.15 281.88,89.50 282.61,88.85 283.56,86.01 283.68,83.45 284.78,83.28 285.05,83.21 286.26,81.10 286.71,78.23 287.29,77.15 288.36,76.02 288.87,78.50 289.81,77.78 289.69,79.00 290.27,82.99 290.09,83.92 290.49,83.23 291.28,85.78 291.09,87.64 291.58,89.15 292.24,90.75 292.83,92.03 292.74,93.09 293.19,96.06 293.67,98.21 294.04,99.21 294.75,98.56 293.96,100.09 294.56,102.68 295.16,103.30 295.53,103.63 295.53,105.63 295.71,106.47 295.94,110.03 296.10,110.87 295.39,113.41 295.80,112.13 296.11,114.74 296.31,115.09 296.27,117.74 296.95,117.75 297.27,120.93 297.89,121.54 297.90,122.61 298.16,123.54 298.79,124.70 299.43,127.48 299.75,127.31 299.99,129.53 300.24,131.86 301.53,132.00 302.36,132.52 302.99,134.04 304.12,135.20 305.11,135.81 306.84,136.62 308.17,137.50 309.23,136.77 310.69,137.50 311.95,137.49 313.47,137.02 314.72,137.50 316.11,136.77 317.47,136.66 318.62,137.50 320.13,136.79 321.23,137.13 322.76,137.21 324.11,137.27 325.38,137.13 326.51,136.94 327.87,137.06 329.32,136.77 330.34,137.29 331.73,136.95 332.98,137.41 334.36,136.82 335.87,137.06 336.98,137.49 338.35,136.91 339.88,137.39 341.10,136.79 342.44,137.18 343.76,136.93 345.06,137.41 346.22,137.26 347.68,137.50 349.05,137.41 350.06,137.22 351.58,136.65 352.81,137.50 354.29,137.50 355.30,137.23 356.91,137.29 358.01,136.62 359.55,137.50 360.76,136.99 362.14,137.48 363.42,137.25 364.57,136.93 365.90,136.96 367.28,136.74 368.67,137.00 369.77,136.90 371.17,137.09 372.63,136.74 373.73,136.95 375.02,137.45 376.31,136.70 377.80,137.45 379.21,137.26 380.40,137.20" fill="none" stroke="#111" stroke-width="0.9" stroke-linejoin="round" stroke-linecap="butt" stroke-dasharray="2.0 1.5"/>
<polyline points="274.68,137.01 275.53,137.50 276.48,137.20 277.98,136.56 278.82,137.38 279.57,137.02 280.95,137.13 281.98,136.68 282.75,136.61 283.91,137.50 284.98,137.50 285.89,137.50 286.76,136.88 288.09,137.50 288.96,136.44 289.87,136.51 290.88,137.33 291.83,137.34 293.22,135.88 293.93,136.06 294.70,135.41 296.27,134.29 297.07,133.75 297.93,134.46 298.51,131.63 299.27,131.97 300.07,129.94 301.10,131.15 301.62,128.70 302.45,126.75 302.99,125.94 303.63,127.56 303.41,125.30 304.57,122.92 304.58,125.23 306.05,120.91 306.12,123.41 305.90,121.11 306.08,119.19 307.40,119.16 307.94,116.09 307.70,118.39 308.45,115.69 308.57,116.97 309.22,111.94 309.94,112.28 309.72,110.80 310.06,110.26 309.86,110.54 310.20,110.19 310.41,109.18 311.88,106.99 312.06,104.94 312.55,104.69 312.25,105.95 312.95,102.47 314.08,101.45 314.25,99.62 315.05,98.99 314.44,101.00 315.17,99.88 316.91,97.45 316.03,94.16 316.63,94.53 317.53,95.96 317.46,91.49 318.07,90.48 317.68,91.24 318.89,88.18 318.88,91.98 319.69,91.76 320.22,91.99 320.32,95.64 321.21,93.23 320.71,90.10 321.77,91.63 322.34,92.25 322.99,93.83 322.28,94.64 323.19,97.31 323.34,96.75 323.72,101.06 324.05,102.10 323.56,103.38 325.07,102.56 324.78,103.59 325.60,102.68 325.96,103.43 326.21,102.94 327.07,101.42 327.29,103.97 327.24,105.82 326.84,106.77 327.56,109.01 327.60,109.86 329.09,110.27 330.05,109.05 330.23,112.64 330.93,112.94 330.62,113.19 331.86,114.06 331.51,115.69 332.56,117.35 332.35,119.26 333.26,120.19 333.30,121.97 334.68,123.13 335.76,123.53 335.07,122.67 335.78,125.32 336.27,124.35 336.72,125.11 338.19,128.92 338.09,129.18 338.72,129.56 339.31,130.64 339.89,130.43 340.83,131.09 341.45,133.62 342.01,132.33 343.47,132.88 343.95,135.10 345.07,134.47 345.76,134.92 346.96,136.20 348.41,136.49 349.40,137.05 350.42,137.34 351.50,136.37 352.16,136.63 353.32,137.03 354.19,137.50 355.23,136.64 356.17,137.05 357.36,137.24 358.28,136.68 359.26,136.91 360.15,137.27 361.17,137.50 362.43,136.70 363.42,137.02 364.33,137.45 365.50,137.50 366.50,136.90 367.41,137.11 368.14,137.46 369.40,137.40" fill="none" stroke="#444" stroke-width="0.75" stroke-linejoin="round" stroke-linecap="round"/>
<polyline points="274.72,137.25 275.84,137.11 277.02,137.50 278.10,137.08 279.19,137.19 280.25,137.50 281.55,137.01 282.64,137.37 283.65,137.16 284.84,137.27 285.96,137.40 286.96,137.47 288.28,137.50 289.31,137.01 290.30,137.06 291.63,137.17 292.63,137.50 293.74,137.33 294.89,137.02 296.04,137.50 297.07,137.12 298.25,137.00 299.39,137.50 300.55,137.32 301.71,137.07 302.77,137.22 303.90,137.05 305.06,137.04 306.26,137.27 307.77,136.79 308.98,136.42 310.19,136.38 311.42,135.72 312.74,135.45 314.04,135.65 315.08,134.92 315.95,134.41 316.85,134.19 318.11,133.47 319.20,133.22 320.53,132.79 322.12,133.76 322.91,132.33 324.16,131.02 325.34,131.55 326.02,130.83 326.71,129.66 328.03,130.34 328.50,128.79 328.97,128.71 329.46,126.36 330.74,125.55 331.25,123.69 331.77,123.09 332.80,121.97 332.72,120.72 333.00,119.57 333.39,119.22 333.62,117.20 333.84,116.90 333.78,114.53 334.24,114.21 334.42,112.91 334.71,111.59 334.86,111.33 334.79,110.02 335.14,108.95 334.84,107.84 335.42,106.77 335.68,104.40 335.61,102.98 335.68,103.22 335.56,101.04 335.61,99.61 335.82,98.27 336.46,98.53 336.28,97.11 336.57,95.54 336.55,94.63 336.78,92.75 336.81,92.23 337.05,90.28 337.11,90.27 337.34,88.67 336.91,87.06 336.99,85.20 337.17,84.72 337.55,83.83 337.32,82.75 337.53,81.21 337.45,79.89 337.57,79.21 337.73,77.50 337.80,76.36 338.00,75.60 338.14,73.83 338.20,73.64 338.40,72.00 337.89,71.03 338.44,68.33 338.19,67.68 338.56,66.95 338.39,64.94 338.43,63.52 338.93,63.78 339.82,64.94 340.70,62.86 340.88,62.22 341.55,61.92 341.02,61.96 341.63,63.88 341.50,65.56 341.73,67.07 341.53,66.69 341.84,67.94 341.84,70.65 341.81,71.29 341.75,71.61 342.10,73.99 342.43,73.60 342.45,75.58 342.17,76.48 342.39,77.50 342.20,79.55 342.63,80.20 342.70,82.07 342.42,82.98 342.88,83.32 342.78,84.73 342.61,85.88 342.64,87.98 342.72,88.64 343.02,90.45 343.22,90.55 343.02,91.19 342.93,92.78 343.61,93.44 343.23,95.62 343.46,95.93 343.94,96.80 343.84,98.62 343.79,99.33 343.79,100.83 344.33,102.15 344.51,104.10 344.29,105.31 344.72,105.69 344.84,107.74 344.93,107.52 345.46,108.76 345.09,111.04 345.38,111.46 345.76,113.73 345.74,114.96 346.08,115.61 346.19,115.73 346.12,118.12 346.62,118.27 346.80,120.10 346.98,121.10 346.97,122.18 347.63,123.06 347.77,124.76 347.57,126.31 347.77,127.47 348.33,128.67 348.90,129.08 349.25,130.93 349.48,131.19 350.08,132.82 350.62,133.27 351.28,134.57 352.16,135.17 353.00,135.38 353.94,136.06 355.06,137.32 356.02,136.95 357.10,137.02 358.36,137.17 359.52,137.16 360.44,137.07 361.64,137.08 362.65,137.30 363.86,137.38 364.94,137.00 366.02,137.10 367.18,137.12 368.20,137.39 369.40,137.40" fill="none" stroke="#000" stroke-width="1.25" stroke-linejoin="round" stroke-linecap="round"/>
<line x1="411.00" y1="36.70" x2="514.70" y2="36.70" stroke="#000" stroke-width="0.8"/>
<line x1="515.00" y1="36.70" x2="515.00" y2="137.50" stroke="#333" stroke-width="0.8"/>
<line x1="411.00" y1="36.20" x2="411.00" y2="138.00" stroke="#000" stroke-width="0.9"/>
<line x1="410.50" y1="137.60" x2="515.30" y2="137.60" stroke="#000" stroke-width="1.15"/>
<line x1="407.70" y1="137.50" x2="411.00" y2="137.50" stroke="#000" stroke-width="0.75"/>
<line x1="409.00" y1="134.14" x2="411.00" y2="134.14" stroke="#000" stroke-width="0.75"/>
<line x1="409.00" y1="130.78" x2="411.00" y2="130.78" stroke="#000" stroke-width="0.75"/>
<line x1="409.00" y1="127.42" x2="411.00" y2="127.42" stroke="#000" stroke-width="0.75"/>
<line x1="409.00" y1="124.06" x2="411.00" y2="124.06" stroke="#000" stroke-width="0.75"/>
<line x1="409.00" y1="120.70" x2="411.00" y2="120.70" stroke="#000" stroke-width="0.75"/>
<line x1="407.70" y1="117.34" x2="411.00" y2="117.34" stroke="#000" stroke-width="0.75"/>
<line x1="409.00" y1="113.98" x2="411.00" y2="113.98" stroke="#000" stroke-width="0.75"/>
<line x1="409.00" y1="110.62" x2="411.00" y2="110.62" stroke="#000" stroke-width="0.75"/>
<line x1="409.00" y1="107.26" x2="411.00" y2="107.26" stroke="#000" stroke-width="0.75"/>
<line x1="409.00" y1="103.90" x2="411.00" y2="103.90" stroke="#000" stroke-width="0.75"/>
<line x1="409.00" y1="100.54" x2="411.00" y2="100.54" stroke="#000" stroke-width="0.75"/>
<line x1="407.70" y1="97.18" x2="411.00" y2="97.18" stroke="#000" stroke-width="0.75"/>
<line x1="409.00" y1="93.82" x2="411.00" y2="93.82" stroke="#000" stroke-width="0.75"/>
<line x1="409.00" y1="90.46" x2="411.00" y2="90.46" stroke="#000" stroke-width="0.75"/>
<line x1="409.00" y1="87.10" x2="411.00" y2="87.10" stroke="#000" stroke-width="0.75"/>
<line x1="409.00" y1="83.74" x2="411.00" y2="83.74" stroke="#000" stroke-width="0.75"/>
<line x1="409.00" y1="80.38" x2="411.00" y2="80.38" stroke="#000" stroke-width="0.75"/>
<line x1="407.70" y1="77.02" x2="411.00" y2="77.02" stroke="#000" stroke-width="0.75"/>
<line x1="409.00" y1="73.66" x2="411.00" y2="73.66" stroke="#000" stroke-width="0.75"/>
<line x1="409.00" y1="70.30" x2="411.00" y2="70.30" stroke="#000" stroke-width="0.75"/>
<line x1="409.00" y1="66.94" x2="411.00" y2="66.94" stroke="#000" stroke-width="0.75"/>
<line x1="409.00" y1="63.58" x2="411.00" y2="63.58" stroke="#000" stroke-width="0.75"/>
<line x1="409.00" y1="60.22" x2="411.00" y2="60.22" stroke="#000" stroke-width="0.75"/>
<line x1="407.70" y1="56.86" x2="411.00" y2="56.86" stroke="#000" stroke-width="0.75"/>
<line x1="409.00" y1="53.50" x2="411.00" y2="53.50" stroke="#000" stroke-width="0.75"/>
<line x1="409.00" y1="50.14" x2="411.00" y2="50.14" stroke="#000" stroke-width="0.75"/>
<line x1="409.00" y1="46.78" x2="411.00" y2="46.78" stroke="#000" stroke-width="0.75"/>
<line x1="409.00" y1="43.42" x2="411.00" y2="43.42" stroke="#000" stroke-width="0.75"/>
<line x1="409.00" y1="40.06" x2="411.00" y2="40.06" stroke="#000" stroke-width="0.75"/>
<line x1="407.70" y1="36.70" x2="411.00" y2="36.70" stroke="#000" stroke-width="0.75"/>
<text transform="translate(403.90,137.50) rotate(-90)" font-size="6.4" text-anchor="middle" fill="#111" stroke="#111" stroke-width="0.2">0</text>
<text transform="translate(403.90,117.34) rotate(-90)" font-size="6.4" text-anchor="middle" fill="#111" stroke="#111" stroke-width="0.2">20</text>
<text transform="translate(403.90,97.18) rotate(-90)" font-size="6.4" text-anchor="middle" fill="#111" stroke="#111" stroke-width="0.2">40</text>
<text transform="translate(403.90,77.02) rotate(-90)" font-size="6.4" text-anchor="middle" fill="#111" stroke="#111" stroke-width="0.2">60</text>
<text transform="translate(403.90,56.86) rotate(-90)" font-size="6.4" text-anchor="middle" fill="#111" stroke="#111" stroke-width="0.2">80</text>
<text transform="translate(403.90,36.70) rotate(-90)" font-size="6.4" text-anchor="middle" fill="#111" stroke="#111" stroke-width="0.2">100</text>
<line x1="411.00" y1="137.50" x2="411.00" y2="140.10" stroke="#000" stroke-width="0.9"/>
<line x1="418.80" y1="137.50" x2="418.80" y2="138.90" stroke="#000" stroke-width="0.6"/>
<line x1="423.37" y1="137.50" x2="423.37" y2="138.90" stroke="#000" stroke-width="0.6"/>
<line x1="429.12" y1="137.50" x2="429.12" y2="138.90" stroke="#000" stroke-width="0.6"/>
<line x1="432.91" y1="137.50" x2="432.91" y2="138.90" stroke="#000" stroke-width="0.6"/>
<text transform="translate(412.60,150.6) scale(0.72,1)" font-size="8.4" text-anchor="end" fill="#000" stroke="#000" stroke-width="0.35">10</text>
<text transform="translate(413.30,145.4) scale(0.85,1)" font-size="7.4" fill="#000" stroke="#000" stroke-width="0.3">0</text>
<line x1="436.93" y1="137.50" x2="436.93" y2="140.10" stroke="#000" stroke-width="0.9"/>
<line x1="444.73" y1="137.50" x2="444.73" y2="138.90" stroke="#000" stroke-width="0.6"/>
<line x1="449.29" y1="137.50" x2="449.29" y2="138.90" stroke="#000" stroke-width="0.6"/>
<line x1="455.05" y1="137.50" x2="455.05" y2="138.90" stroke="#000" stroke-width="0.6"/>
<line x1="458.83" y1="137.50" x2="458.83" y2="138.90" stroke="#000" stroke-width="0.6"/>
<text transform="translate(438.55,150.6) scale(0.72,1)" font-size="8.4" text-anchor="end" fill="#000" stroke="#000" stroke-width="0.35">10</text>
<text transform="translate(439.25,145.4) scale(0.85,1)" font-size="7.4" fill="#000" stroke="#000" stroke-width="0.3">1</text>
<line x1="462.85" y1="137.50" x2="462.85" y2="140.10" stroke="#000" stroke-width="0.9"/>
<line x1="470.65" y1="137.50" x2="470.65" y2="138.90" stroke="#000" stroke-width="0.6"/>
<line x1="475.22" y1="137.50" x2="475.22" y2="138.90" stroke="#000" stroke-width="0.6"/>
<line x1="480.97" y1="137.50" x2="480.97" y2="138.90" stroke="#000" stroke-width="0.6"/>
<line x1="484.76" y1="137.50" x2="484.76" y2="138.90" stroke="#000" stroke-width="0.6"/>
<text transform="translate(464.50,150.6) scale(0.72,1)" font-size="8.4" text-anchor="end" fill="#000" stroke="#000" stroke-width="0.35">10</text>
<text transform="translate(465.20,145.4) scale(0.85,1)" font-size="7.4" fill="#000" stroke="#000" stroke-width="0.3">2</text>
<line x1="488.78" y1="137.50" x2="488.78" y2="140.10" stroke="#000" stroke-width="0.9"/>
<line x1="496.58" y1="137.50" x2="496.58" y2="138.90" stroke="#000" stroke-width="0.6"/>
<line x1="501.14" y1="137.50" x2="501.14" y2="138.90" stroke="#000" stroke-width="0.6"/>
<line x1="506.90" y1="137.50" x2="506.90" y2="138.90" stroke="#000" stroke-width="0.6"/>
<line x1="510.68" y1="137.50" x2="510.68" y2="138.90" stroke="#000" stroke-width="0.6"/>
<text transform="translate(490.45,150.6) scale(0.72,1)" font-size="8.4" text-anchor="end" fill="#000" stroke="#000" stroke-width="0.35">10</text>
<text transform="translate(491.15,145.4) scale(0.85,1)" font-size="7.4" fill="#000" stroke="#000" stroke-width="0.3">3</text>
<line x1="514.70" y1="137.50" x2="514.70" y2="140.10" stroke="#000" stroke-width="0.9"/>
<text transform="translate(516.40,150.6) scale(0.72,1)" font-size="8.4" text-anchor="end" fill="#000" stroke="#000" stroke-width="0.35">10</text>
<text transform="translate(517.10,145.4) scale(0.85,1)" font-size="7.4" fill="#000" stroke="#000" stroke-width="0.3">4</text>
<text transform="translate(396.47,23.85) scale(0.910,1)" font-size="26" font-weight="bold" fill="#000" stroke="#000" stroke-width="0.5">D</text>
<polyline points="410.95,117.18 412.32,115.90 412.76,115.26 412.98,113.79 414.01,113.38 414.01,110.66 414.57,110.93 415.89,107.38 416.88,108.89 417.22,106.60 417.39,103.55 418.22,102.43 418.30,101.73 418.57,101.14 419.44,101.03 420.12,99.09 420.70,97.82 421.26,95.33 422.31,96.12 422.62,93.89 422.56,91.09 423.05,91.98 424.06,94.33 424.66,95.66 425.51,98.38 425.24,97.80 426.93,99.91 427.25,101.03 426.55,103.06 427.54,103.31 427.07,104.83 428.24,107.44 427.60,107.24 427.91,108.18 428.96,110.03 429.04,112.34 428.98,114.70 429.34,115.93 429.75,116.76 430.27,117.81 431.49,120.91 431.23,122.40 431.59,122.20 432.65,124.13 432.39,126.25 432.95,125.67 433.84,127.12 433.91,127.85 434.22,130.16 435.00,131.43 435.76,132.42 436.74,133.73 437.70,135.02 438.69,134.79 440.18,136.39 441.23,136.07 442.76,137.36 443.89,137.50 445.48,137.41 446.64,136.87 447.83,137.50 449.24,137.50 450.58,137.50 452.04,137.08 453.21,137.50 454.50,137.01 456.02,137.50 457.38,137.06 458.82,136.98 459.82,137.05 461.28,136.83 462.48,137.16 463.93,136.90 465.16,137.50 466.69,137.47 467.89,137.39 468.98,136.80 470.24,137.50 471.80,137.50 472.84,137.45 474.32,137.50 475.56,137.50 476.77,137.35 478.32,137.50 479.62,137.50 480.95,137.50 482.08,137.50 483.59,137.50 484.71,137.50 486.18,137.38 487.40,137.17 488.68,137.42 489.80,137.45 491.44,137.50 492.65,137.18 493.95,137.39 495.14,137.50 496.31,137.50 497.59,137.41 499.06,137.01 500.45,137.30 501.72,137.50 502.89,136.78 504.21,137.49 505.47,136.95 507.04,137.47 508.17,137.50 509.43,137.48 510.68,137.23 512.21,137.50 513.54,137.18 514.70,137.30" fill="none" stroke="#333" stroke-width="0.9" stroke-linejoin="round" stroke-linecap="butt" stroke-dasharray="2.0 1.5"/>
<polyline points="410.99,137.39 412.07,136.59 412.78,136.72 413.90,137.12 415.09,136.69 416.03,136.62 416.79,136.12 417.76,136.57 418.67,136.25 419.64,135.87 420.74,135.26 421.97,134.48 422.51,135.64 423.84,134.02 425.19,135.06 425.77,133.87 426.78,133.17 428.08,132.39 429.13,131.66 429.53,132.59 430.43,131.29 431.32,130.88 431.91,129.39 432.99,130.73 434.02,129.33 434.31,127.89 435.42,127.94 435.54,126.10 436.42,126.13 437.51,125.40 437.37,125.65 438.43,124.06 438.80,122.97 439.57,123.28 439.83,121.77 440.52,121.47 440.95,119.24 441.91,119.67 442.17,118.26 442.95,116.86 443.87,118.36 444.48,117.55 444.65,116.65 445.42,113.36 446.42,115.03 446.08,112.05 447.53,111.50 447.44,109.58 447.65,110.80 449.23,111.24 449.10,107.08 449.34,108.83 450.40,107.47 450.34,106.26 451.31,105.77 451.72,106.02 452.97,102.48 452.75,104.02 453.24,103.38 454.02,101.67 454.99,99.28 455.24,98.67 456.05,99.08 455.73,98.65 456.41,95.37 456.56,98.84 456.84,98.59 457.40,100.70 457.34,99.80 457.27,102.40 457.64,102.27 457.29,102.48 457.92,104.07 457.24,105.49 458.46,106.71 458.62,108.02 458.36,108.53 458.35,107.11 458.49,108.76 459.35,110.97 459.05,111.67 459.55,112.24 461.24,112.64 461.16,113.56 461.71,115.38 461.95,114.23 462.61,117.17 463.60,117.92 464.27,117.79 463.58,119.03 464.47,118.80 465.13,120.17 465.01,120.96 466.22,120.76 465.95,122.49 466.18,123.80 466.67,126.07 467.40,126.25 467.53,126.46 468.40,128.28 468.54,128.15 469.69,129.68 469.83,129.64 470.90,129.97 471.48,131.19 472.33,131.61 473.12,131.79 474.15,132.34 475.00,133.00 475.72,133.16 476.51,134.37 477.37,134.12 478.49,135.03 479.38,136.01 479.95,136.90 481.18,136.30 481.83,136.85 483.15,136.94 484.13,136.82 485.05,136.77 485.96,137.05 486.88,137.09 488.00,136.82 488.67,136.93 489.93,137.27 490.47,137.50 491.75,137.50 492.46,137.50 493.37,136.84 494.54,137.50 495.19,137.50 496.05,137.08 496.97,136.93 497.97,137.50 498.96,136.97 499.84,137.13 501.06,137.50 501.67,137.50 502.78,137.33 503.70,137.40" fill="none" stroke="#888" stroke-width="1.3" stroke-linejoin="round" stroke-linecap="round"/>
<polyline points="410.88,137.45 412.09,137.50 412.84,136.50 413.82,136.32 415.12,136.02 416.02,135.97 416.85,136.10 418.11,136.17 418.62,135.44 419.66,136.20 421.00,135.90 421.98,135.61 423.02,135.50 423.68,135.28 424.91,134.80 426.04,133.87 426.91,133.36 427.87,132.23 429.23,133.12 430.12,132.39 430.54,132.01 430.95,131.34 431.95,129.62 432.55,129.73 433.40,128.84 434.54,127.94 434.88,127.47 435.63,126.02 436.22,125.69 436.73,125.88 438.37,124.34 438.76,125.46 438.54,121.94 440.09,123.63 440.48,120.33 440.78,122.20 442.01,121.15 441.71,120.54 442.53,119.22 442.82,119.39 444.04,117.65 444.12,116.45 445.15,115.55 445.40,115.28 445.91,112.85 446.22,113.53 446.69,111.00 447.18,111.80 448.27,110.56 448.04,109.32 448.89,107.15 448.89,109.74 449.50,106.25 450.36,106.54 450.77,105.22 451.82,105.77 451.84,103.00 453.00,104.54 453.52,101.78 454.23,100.23 454.13,100.26 456.05,100.41 455.51,99.12 456.63,96.42 456.62,95.70 456.29,96.40 456.37,97.60 456.29,98.74 456.48,101.06 457.30,99.16 457.66,100.82 457.44,103.13 457.42,103.05 457.72,103.40 458.46,104.23 458.58,105.55 458.06,107.13 457.87,107.06 458.48,109.18 459.33,112.19 458.39,111.38 459.51,113.28 460.76,114.49 461.52,112.45 461.26,113.79 462.86,114.29 462.81,116.01 463.09,118.52 463.37,119.08 464.36,120.73 464.56,121.49 464.85,120.99 465.48,122.81 466.22,120.96 465.66,123.30 466.87,124.11 466.72,126.35 467.18,124.41 467.38,125.14 468.53,126.27 468.96,129.25 469.86,129.72 469.98,129.86 470.98,130.73 471.18,131.46 471.69,131.07 473.37,132.02 473.83,133.25 474.97,132.27 475.52,133.32 476.56,135.09 477.35,135.43 478.54,135.21 479.44,136.29 479.99,136.04 480.98,137.13 482.02,136.22 482.94,136.77 483.85,137.04 484.77,137.50 485.85,136.65 486.97,136.95 488.05,137.22 488.80,137.50 489.59,137.50 490.73,137.15 491.81,136.61 492.69,136.79 493.61,136.81 494.17,137.30 495.52,136.98 496.24,137.46 497.06,137.37 497.88,137.27 499.17,137.13 499.84,136.75 501.00,137.27 502.03,137.50 502.58,137.50 503.70,137.40" fill="none" stroke="#555" stroke-width="0.6" stroke-linejoin="round" stroke-linecap="round"/>
<polyline points="410.92,137.50 412.14,137.50 413.18,137.26 414.38,137.49 415.41,137.50 416.54,137.50 417.59,137.24 418.86,137.32 419.84,137.50 421.03,137.20 422.12,137.49 423.16,137.49 424.26,137.31 425.36,137.23 426.65,137.35 427.76,137.37 428.80,137.50 429.93,137.18 431.02,137.48 432.05,137.17 433.30,137.41 434.27,137.37 435.39,137.50 436.56,137.17 437.73,137.17 438.73,137.13 439.94,137.18 441.01,137.17 442.41,137.37 443.84,137.11 445.25,136.96 446.46,136.50 447.62,136.34 448.89,136.53 449.90,135.77 451.38,135.72 452.55,135.48 454.11,134.94 455.96,135.65 457.12,134.12 457.94,132.74 459.34,133.98 459.70,132.53 460.09,131.07 461.75,132.38 462.42,131.18 463.20,129.36 463.82,128.10 464.71,127.01 465.83,125.86 466.38,125.14 467.71,122.94 468.02,121.73 468.28,120.78 468.87,119.72 469.00,118.55 469.05,116.60 469.51,115.64 469.53,114.05 469.73,113.31 469.48,112.60 469.73,110.43 469.74,108.83 469.83,108.56 469.94,106.69 470.26,105.96 470.36,105.17 470.44,103.33 470.67,101.76 470.70,100.61 471.13,99.43 471.22,98.41 471.34,97.96 471.30,97.26 471.60,95.52 471.39,94.14 471.64,93.09 472.14,92.58 471.74,91.09 472.32,89.67 471.94,88.99 472.22,87.97 472.56,86.53 472.68,84.11 472.69,83.29 472.42,82.21 472.76,80.41 472.77,80.45 472.88,78.85 472.85,78.35 472.90,76.69 473.20,74.40 473.48,73.58 473.55,73.49 473.58,72.17 473.38,70.31 473.43,69.90 473.34,67.42 473.97,67.35 473.94,66.46 473.96,65.11 474.03,64.07 473.93,62.19 474.33,61.61 474.36,60.29 474.96,58.50 474.83,56.50 475.30,58.36 475.14,59.58 475.09,60.26 475.25,61.46 475.70,62.59 475.40,62.25 475.80,59.58 476.00,59.30 476.05,60.56 475.98,60.81 476.22,62.58 476.26,62.99 476.14,64.93 476.21,65.91 476.32,67.28 476.32,68.00 477.08,65.70 476.78,67.36 476.81,68.86 476.95,70.08 477.15,70.02 477.20,72.01 477.24,73.07 477.23,74.73 477.24,75.68 477.27,76.41 477.42,77.01 477.83,79.45 477.79,79.84 477.96,81.37 477.96,82.16 478.31,83.69 478.10,85.31 478.53,85.89 478.05,86.89 478.61,87.87 478.29,90.07 478.31,91.36 478.45,91.82 478.81,92.52 479.07,94.19 479.22,95.85 478.99,97.09 479.57,97.30 479.59,98.39 479.72,100.40 479.80,101.23 479.84,102.94 480.29,104.06 480.15,105.11 480.33,105.98 480.58,107.71 480.68,108.21 481.02,109.29 480.93,110.95 481.58,111.68 481.67,112.87 481.46,114.27 481.99,116.01 481.94,116.04 481.97,117.22 481.93,118.91 482.20,119.58 482.52,121.77 482.91,123.06 482.82,123.07 483.25,124.54 483.13,126.18 483.57,127.62 483.98,128.89 484.12,130.16 484.61,131.19 485.09,131.94 485.64,133.06 486.37,134.21 487.12,135.22 488.06,135.56 489.01,136.21 489.90,137.14 491.17,136.92 492.37,137.10 493.37,137.37 494.51,137.31 495.77,136.88 496.92,137.15 497.99,137.49 499.12,137.12 500.18,137.50 501.41,137.45 502.59,137.50 503.70,137.40" fill="none" stroke="#000" stroke-width="1.2" stroke-linejoin="round" stroke-linecap="round"/>
<line x1="32.00" y1="168.40" x2="228.80" y2="168.40" stroke="#8a8a8a" stroke-width="0.9"/>
<line x1="304.50" y1="168.40" x2="501.00" y2="168.40" stroke="#8a8a8a" stroke-width="0.9"/>
<text x="242.00" y="173.00" font-size="10.6" text-anchor="start" font-weight="normal" fill="#000" stroke="#000" stroke-width="0.15">CD95-PE</text>
<text transform="translate(1.23,198.80) scale(0.880,1)" font-size="26" font-weight="bold" fill="#000" stroke="#000" stroke-width="0.5">E</text>
<line x1="46.50" y1="206.30" x2="46.50" y2="338.20" stroke="#a6a6a6" stroke-width="1"/>
<line x1="44.00" y1="338.20" x2="247.50" y2="338.20" stroke="#a6a6a6" stroke-width="1"/>
<line x1="44.30" y1="338.20" x2="46.50" y2="338.20" stroke="#a6a6a6" stroke-width="0.9"/>
<line x1="44.30" y1="294.23" x2="46.50" y2="294.23" stroke="#a6a6a6" stroke-width="0.9"/>
<line x1="44.30" y1="250.27" x2="46.50" y2="250.27" stroke="#a6a6a6" stroke-width="0.9"/>
<line x1="44.30" y1="206.30" x2="46.50" y2="206.30" stroke="#a6a6a6" stroke-width="0.9"/>
<line x1="46.50" y1="338.20" x2="46.50" y2="340.50" stroke="#a6a6a6" stroke-width="0.9"/>
<line x1="86.75" y1="338.20" x2="86.75" y2="340.50" stroke="#a6a6a6" stroke-width="0.9"/>
<line x1="127.00" y1="338.20" x2="127.00" y2="340.50" stroke="#a6a6a6" stroke-width="0.9"/>
<line x1="167.25" y1="338.20" x2="167.25" y2="340.50" stroke="#a6a6a6" stroke-width="0.9"/>
<line x1="207.50" y1="338.20" x2="207.50" y2="340.50" stroke="#a6a6a6" stroke-width="0.9"/>
<line x1="247.75" y1="338.20" x2="247.75" y2="340.50" stroke="#a6a6a6" stroke-width="0.9"/>
<text x="13.60" y="211.90" font-size="10.8" text-anchor="start" font-weight="normal" fill="#000" stroke="#000" stroke-width="0.15">600</text>
<text x="13.60" y="253.50" font-size="10.8" text-anchor="start" font-weight="normal" fill="#000" stroke="#000" stroke-width="0.15">400</text>
<text x="13.60" y="295.20" font-size="10.8" text-anchor="start" font-weight="normal" fill="#000" stroke="#000" stroke-width="0.15">200</text>
<text x="23.60" y="336.50" font-size="10.8" text-anchor="start" font-weight="normal" fill="#000" stroke="#000" stroke-width="0.15">0</text>
<text transform="translate(9.7,269.8) rotate(-90)" font-size="10.7" text-anchor="middle" fill="#000" stroke="#000" stroke-width="0.15">CD95 MFI</text>
<line x1="67.00" y1="247.00" x2="67.00" y2="263.30" stroke="#777" stroke-width="0.9"/>
<line x1="65.40" y1="247.00" x2="68.60" y2="247.00" stroke="#777" stroke-width="0.9"/>
<rect x="58.90" y="263.30" width="16.20" height="74.90" fill="#000"/>
<line x1="107.20" y1="239.50" x2="107.20" y2="250.00" stroke="#777" stroke-width="0.9"/>
<line x1="105.60" y1="239.50" x2="108.80" y2="239.50" stroke="#777" stroke-width="0.9"/>
<rect x="99.20" y="250.00" width="16.00" height="88.20" fill="#000"/>
<line x1="147.40" y1="252.50" x2="147.40" y2="265.80" stroke="#777" stroke-width="0.9"/>
<line x1="145.80" y1="252.50" x2="149.00" y2="252.50" stroke="#777" stroke-width="0.9"/>
<rect x="139.30" y="265.80" width="16.20" height="72.40" fill="#000"/>
<line x1="187.40" y1="304.00" x2="187.40" y2="315.00" stroke="#777" stroke-width="0.9"/>
<line x1="185.80" y1="304.00" x2="189.00" y2="304.00" stroke="#777" stroke-width="0.9"/>
<rect x="179.30" y="315.00" width="16.20" height="23.20" fill="#000"/>
<line x1="227.40" y1="311.50" x2="227.40" y2="322.50" stroke="#777" stroke-width="0.9"/>
<line x1="225.80" y1="311.50" x2="229.00" y2="311.50" stroke="#777" stroke-width="0.9"/>
<rect x="219.30" y="322.50" width="16.20" height="15.70" fill="#000"/>
<text x="187.20" y="305.60" font-size="10.5" text-anchor="middle" font-weight="bold" fill="#000" stroke="#000" stroke-width="0.15">*</text>
<text x="227.60" y="312.00" font-size="10.5" text-anchor="middle" font-weight="bold" fill="#000" stroke="#000" stroke-width="0.15">*</text>
<text x="37.30" y="354.20" font-size="10.8" text-anchor="start" font-weight="normal" fill="#000" stroke="#000" stroke-width="0.15">CTLs NT</text>
<text x="99.60" y="354.20" font-size="10.8" text-anchor="start" font-weight="normal" fill="#000" stroke="#000" stroke-width="0.15">EV</text>
<text x="124.60" y="354.20" font-size="10.8" text-anchor="start" font-weight="normal" fill="#000" stroke="#000" stroke-width="0.15">CsiRNA</text>
<text x="167.60" y="354.20" font-size="10.8" text-anchor="start" font-weight="normal" fill="#000" stroke="#000" stroke-width="0.15">siRNA10</text>
<text x="215.90" y="354.20" font-size="10.8" text-anchor="start" font-weight="normal" fill="#000" stroke="#000" stroke-width="0.15">siRNA10</text>
<text x="224.60" y="367.00" font-size="10.8" text-anchor="start" font-weight="normal" fill="#000" stroke="#000" stroke-width="0.15">and 8</text>
<text transform="translate(279.40,198.70) scale(0.920,1)" font-size="26" font-weight="bold" fill="#000" stroke="#000" stroke-width="0.5">F</text>
<line x1="308.50" y1="209.60" x2="308.50" y2="337.50" stroke="#8a8a8a" stroke-width="1"/>
<line x1="306.00" y1="337.50" x2="511.00" y2="337.50" stroke="#8a8a8a" stroke-width="1"/>
<line x1="306.30" y1="337.50" x2="308.50" y2="337.50" stroke="#8a8a8a" stroke-width="0.9"/>
<line x1="306.30" y1="294.87" x2="308.50" y2="294.87" stroke="#8a8a8a" stroke-width="0.9"/>
<line x1="306.30" y1="252.23" x2="308.50" y2="252.23" stroke="#8a8a8a" stroke-width="0.9"/>
<line x1="306.30" y1="209.60" x2="308.50" y2="209.60" stroke="#8a8a8a" stroke-width="0.9"/>
<line x1="308.50" y1="337.50" x2="308.50" y2="339.80" stroke="#8a8a8a" stroke-width="0.9"/>
<line x1="349.00" y1="337.50" x2="349.00" y2="339.80" stroke="#8a8a8a" stroke-width="0.9"/>
<line x1="389.50" y1="337.50" x2="389.50" y2="339.80" stroke="#8a8a8a" stroke-width="0.9"/>
<line x1="430.00" y1="337.50" x2="430.00" y2="339.80" stroke="#8a8a8a" stroke-width="0.9"/>
<line x1="470.50" y1="337.50" x2="470.50" y2="339.80" stroke="#8a8a8a" stroke-width="0.9"/>
<line x1="511.00" y1="337.50" x2="511.00" y2="339.80" stroke="#8a8a8a" stroke-width="0.9"/>
<text x="293.60" y="212.60" font-size="10.8" text-anchor="start" font-weight="normal" fill="#000" stroke="#000" stroke-width="0.15">60</text>
<text x="293.60" y="256.90" font-size="10.8" text-anchor="start" font-weight="normal" fill="#000" stroke="#000" stroke-width="0.15">40</text>
<text x="294.40" y="299.40" font-size="10.8" text-anchor="start" font-weight="normal" fill="#000" stroke="#000" stroke-width="0.15">20</text>
<text x="297.70" y="343.10" font-size="10.8" text-anchor="start" font-weight="normal" fill="#000" stroke="#000" stroke-width="0.15">0</text>
<text transform="translate(287.6,275.3) rotate(-90)" font-size="10.7" text-anchor="middle" fill="#000" stroke="#000" stroke-width="0.15">% of apoptotic cells</text>
<line x1="322.20" y1="285.50" x2="322.20" y2="296.80" stroke="#777" stroke-width="0.9"/>
<line x1="320.60" y1="285.50" x2="323.80" y2="285.50" stroke="#777" stroke-width="0.9"/>
<rect x="316.40" y="296.80" width="11.60" height="40.70" fill="#fff" stroke="#666" stroke-width="0.8"/>
<line x1="334.00" y1="225.00" x2="334.00" y2="241.30" stroke="#777" stroke-width="0.9"/>
<line x1="332.40" y1="225.00" x2="335.60" y2="225.00" stroke="#777" stroke-width="0.9"/>
<rect x="328.00" y="241.30" width="12.00" height="96.20" fill="#858585" stroke="#666" stroke-width="0.7"/>
<line x1="362.90" y1="273.30" x2="362.90" y2="284.50" stroke="#777" stroke-width="0.9"/>
<line x1="361.30" y1="273.30" x2="364.50" y2="273.30" stroke="#777" stroke-width="0.9"/>
<rect x="357.00" y="284.50" width="11.80" height="53.00" fill="#fff" stroke="#666" stroke-width="0.8"/>
<line x1="374.65" y1="228.80" x2="374.65" y2="243.00" stroke="#777" stroke-width="0.9"/>
<line x1="373.05" y1="228.80" x2="376.25" y2="228.80" stroke="#777" stroke-width="0.9"/>
<rect x="368.80" y="243.00" width="11.70" height="94.50" fill="#858585" stroke="#666" stroke-width="0.7"/>
<line x1="403.25" y1="285.50" x2="403.25" y2="290.00" stroke="#777" stroke-width="0.9"/>
<line x1="401.65" y1="285.50" x2="404.85" y2="285.50" stroke="#777" stroke-width="0.9"/>
<rect x="397.20" y="290.00" width="12.10" height="47.50" fill="#fff" stroke="#666" stroke-width="0.8"/>
<line x1="415.30" y1="236.30" x2="415.30" y2="243.30" stroke="#777" stroke-width="0.9"/>
<line x1="413.70" y1="236.30" x2="416.90" y2="236.30" stroke="#777" stroke-width="0.9"/>
<rect x="409.30" y="243.30" width="12.00" height="94.20" fill="#858585" stroke="#666" stroke-width="0.7"/>
<line x1="443.80" y1="285.50" x2="443.80" y2="294.50" stroke="#777" stroke-width="0.9"/>
<line x1="442.20" y1="285.50" x2="445.40" y2="285.50" stroke="#777" stroke-width="0.9"/>
<rect x="438.00" y="294.50" width="11.60" height="43.00" fill="#fff" stroke="#666" stroke-width="0.8"/>
<line x1="455.70" y1="283.00" x2="455.70" y2="288.30" stroke="#777" stroke-width="0.9"/>
<line x1="454.10" y1="283.00" x2="457.30" y2="283.00" stroke="#777" stroke-width="0.9"/>
<rect x="449.60" y="288.30" width="12.20" height="49.20" fill="#858585" stroke="#666" stroke-width="0.7"/>
<line x1="484.15" y1="285.50" x2="484.15" y2="293.00" stroke="#777" stroke-width="0.9"/>
<line x1="482.55" y1="285.50" x2="485.75" y2="285.50" stroke="#777" stroke-width="0.9"/>
<rect x="478.30" y="293.00" width="11.70" height="44.50" fill="#fff" stroke="#666" stroke-width="0.8"/>
<line x1="495.90" y1="281.30" x2="495.90" y2="290.00" stroke="#777" stroke-width="0.9"/>
<line x1="494.30" y1="281.30" x2="497.50" y2="281.30" stroke="#777" stroke-width="0.9"/>
<rect x="490.00" y="290.00" width="11.80" height="47.50" fill="#858585" stroke="#666" stroke-width="0.7"/>
<text x="455.20" y="283.60" font-size="9.2" text-anchor="middle" font-weight="bold" fill="#000" stroke="#000" stroke-width="0.15">**</text>
<text x="496.30" y="281.80" font-size="9.2" text-anchor="middle" font-weight="bold" fill="#000" stroke="#000" stroke-width="0.15">**</text>
<text x="298.20" y="353.80" font-size="10.8" text-anchor="start" font-weight="normal" fill="#000" stroke="#000" stroke-width="0.15">CTLs</text>
<text x="329.60" y="353.80" font-size="10.8" text-anchor="start" font-weight="normal" fill="#000" stroke="#000" stroke-width="0.15">NT</text>
<text x="362.00" y="353.80" font-size="10.8" text-anchor="start" font-weight="normal" fill="#000" stroke="#000" stroke-width="0.15">EV</text>
<text x="385.80" y="353.80" font-size="10.8" text-anchor="start" font-weight="normal" fill="#000" stroke="#000" stroke-width="0.15">CsiRNA</text>
<text x="427.60" y="353.80" font-size="10.8" text-anchor="start" font-weight="normal" fill="#000" stroke="#000" stroke-width="0.15">siRNA10</text>
<text x="475.30" y="353.80" font-size="10.8" text-anchor="start" font-weight="normal" fill="#000" stroke="#000" stroke-width="0.15">siRNA10</text>
<text x="484.40" y="366.90" font-size="10.8" text-anchor="start" font-weight="normal" fill="#000" stroke="#000" stroke-width="0.15">and 8</text>
</svg>
</body></html>
